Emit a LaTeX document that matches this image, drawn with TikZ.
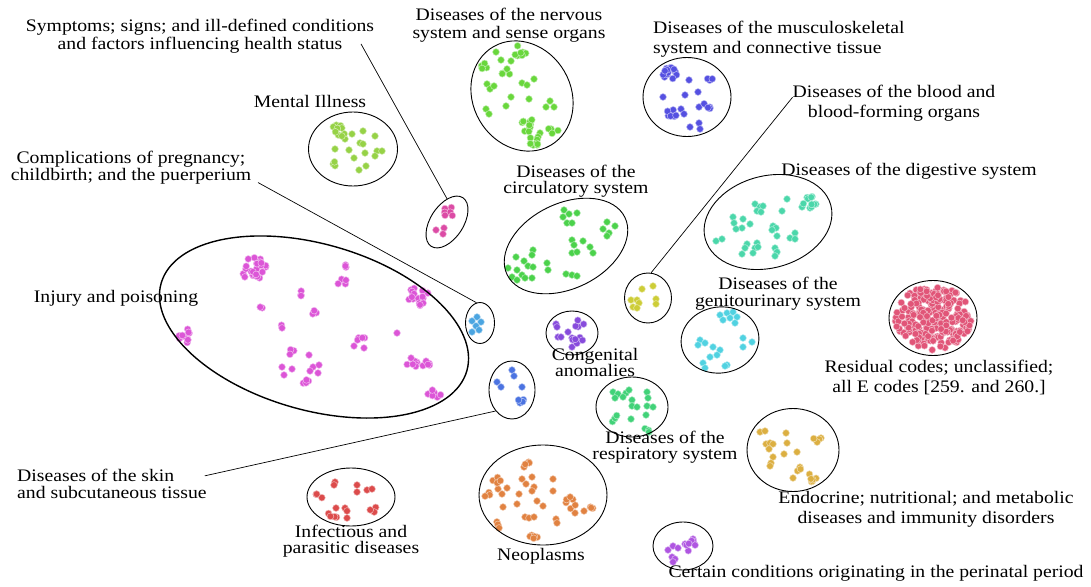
\documentclass[tikz,border=0pt]{standalone}
\usepackage{fontspec}
\setmainfont{Liberation Serif}[FakeStretch=1.12]
\usepackage{tikz}
\usetikzlibrary{shapes.geometric}
\definecolor{cMent}{RGB}{150,210,70}
\definecolor{cNerv}{RGB}{105,215,60}
\definecolor{cMusc}{RGB}{85,80,225}
\definecolor{cSymp}{RGB}{220,75,165}
\definecolor{cCirc}{RGB}{75,210,75}
\definecolor{cBlood}{RGB}{205,205,55}
\definecolor{cDig}{RGB}{75,215,170}
\definecolor{cComp}{RGB}{75,165,225}
\definecolor{cInj}{RGB}{220,85,215}
\definecolor{cCong}{RGB}{135,75,220}
\definecolor{cGen}{RGB}{80,210,225}
\definecolor{cRes}{RGB}{225,85,120}
\definecolor{cSkin}{RGB}{75,115,225}
\definecolor{cResp}{RGB}{65,210,120}
\definecolor{cEndo}{RGB}{220,175,65}
\definecolor{cInf}{RGB}{220,75,75}
\definecolor{cNeo}{RGB}{225,130,65}
\definecolor{cPeri}{RGB}{175,85,225}
\tikzset{
  dot/.style={fill=#1, draw=#1!40!white, line width=0.5pt},
  ring/.style={draw=black, line width=0.9pt, shape=ellipse, inner sep=0pt},
  lbl/.style={font=\fontsize{17.6}{17.7}\selectfont, inner sep=0pt, align=center, anchor=north},
  lead/.style={draw=black, line width=0.7pt},
}

\begin{document}
\begin{tikzpicture}[x=1pt,y=-1pt]
  \useasboundingbox (0,0) rectangle (1091,586);
  \pgfmathsetseed{42}
  % single points
  \foreach \cl/\x/\y in {
    cMent/352/134, cMent/363/131, cMent/375/136, cMent/345/139, cMent/360/143, cMent/363/144,
    cMent/335/149, cMent/349/150, cMent/365/153, cMent/377/151, cMent/382/151, cMent/375/156,
    cMent/354/158, cMent/366/166, cMent/359/170,
    cNerv/496/52, cNerv/501/60, cNerv/511/61, cNerv/487/84, cNerv/490/89, cNerv/494/86,
    cNerv/522/83, cNerv/527/85, cNerv/534/79, cNerv/511/97, cNerv/529/99, cNerv/550/101,
    cNerv/546/107, cNerv/554/107, cNerv/486/109, cNerv/489/114, cNerv/506/106, cNerv/540/133,
    cNerv/538/137,
    cMusc/689/80, cMusc/663/97, cMusc/685/95, cMusc/698/92, cMusc/699/107, cMusc/681/109,
    cMusc/684/114, cMusc/699/123, cMusc/690/127, cMusc/700/129,
    cSymp/436/230, cSymp/444/228, cSymp/443/234,
    cComp/477/317, cComp/481/322, cComp/472/321, cComp/476/326, cComp/479/330, cComp/472/332,
    cCirc/564/210, cCirc/569/214, cCirc/577/213, cCirc/563/217, cCirc/567/223, cCirc/572/223,
    cCirc/607/222, cCirc/615/226, cCirc/603/229, cCirc/609/233, cCirc/607/236, cCirc/572/240,
    cCirc/583/241, cCirc/574/245, cCirc/590/247, cCirc/593/253, cCirc/572/253, cCirc/577/252,
    cCirc/533/250, cCirc/532/255, cCirc/516/257, cCirc/524/261, cCirc/547/263, cCirc/528/266,
    cCirc/533/267, cCirc/508/268, cCirc/517/270, cCirc/522/275, cCirc/548/270, cCirc/512/277,
    cCirc/525/278, cCirc/532/278, cCirc/517/280, cCirc/566/274, cCirc/572/275, cCirc/577/276,
    cBlood/642/289, cBlood/653/286, cBlood/631/300, cBlood/637/300, cBlood/639/303,
    cBlood/656/299, cBlood/656/304, cBlood/633/307, cBlood/637/308,
    cCong/556/324, cCong/557/327, cCong/568/332, cCong/558/337, cCong/561/337, cCong/572/338,
    cCong/572/347,
    cSkin/512/370, cSkin/514/376, cSkin/497/382, cSkin/501/387, cSkin/522/387,
    cResp/613/392, cResp/618/394, cResp/626/393, cResp/629/390, cResp/623/397, cResp/615/398,
    cResp/632/400, cResp/647/392, cResp/648/398, cResp/632/406, cResp/637/407, cResp/647/406,
    cResp/653/407, cResp/631/419, cResp/646/415,
    cGen/720/315, cGen/727/313, cGen/733/312, cGen/723/320, cGen/730/318, cGen/737/317,
    cGen/735/323, cGen/700/340, cGen/698/345, cGen/705/343, cGen/713/347, cGen/720/350,
    cGen/710/357, cGen/717/355, cGen/703/363, cGen/727/365, cGen/705/368, cGen/743/338,
    cGen/752/342, cGen/743/347, cGen/725/366,
    cDig/787/199, cDig/782/211, cDig/755/204, cDig/760/207, cDig/763/206, cDig/757/211,
    cDig/761/212, cDig/802/207, cDig/810/208, cDig/733/217, cDig/743/219, cDig/734/223,
    cDig/750/224, cDig/742/228, cDig/736/229, cDig/773/226, cDig/776/228, cDig/772/230,
    cDig/777/236, cDig/795/233, cDig/790/238, cDig/795/239, cDig/716/241, cDig/722/239,
    cDig/747/244, cDig/757/243, cDig/745/248, cDig/755/248, cDig/758/247, cDig/742/254,
    cDig/753/253, cDig/775/248, cDig/777/252, cDig/775/256,
    cEndo/760/432, cEndo/765/431, cEndo/786/433, cEndo/766/444, cEndo/770/443, cEndo/773/444,
    cEndo/769/449, cEndo/787/443, cEndo/797/452, cEndo/784/454, cEndo/773/457, cEndo/771/463,
    cEndo/770/466, cEndo/793/478,
    cInf/335/482, cInf/334/485, cInf/357/485, cInf/357/492, cInf/367/490, cInf/336/508,
    cInf/345/508, cInf/347/511, cInf/347/518, cInf/372/489,
    cNeo/524/467, cNeo/498/489, cNeo/507/488, cNeo/502/494, cNeo/522/479, cNeo/532/477,
    cNeo/526/484, cNeo/534/487, cNeo/532/491, cNeo/519/494, cNeo/553/479, cNeo/553/491,
    cNeo/517/504, cNeo/537/501, cNeo/543/506, cNeo/503/507, cNeo/575/513, cNeo/584/511,
    cNeo/525/517, cNeo/529/518, cNeo/534/517, cNeo/556/519, cNeo/557/523,
    cPeri/668/550, cPeri/673/546, cPeri/678/548, cPeri/672/557, cPeri/675/559, cPeri/685/544,
    cPeri/693/539, cPeri/673/562,
    cInj/397/333, cInj/354/346, cInj/364/348, cInj/309/355, cInj/282/367, cInj/292/369,
    cInj/284/375, cInj/313/367, cInj/319/365, cInj/310/371, cInj/318/373, cInj/428/394}
    \fill[dot=\cl] (\x,\y) circle (3.4pt);
  % tight groups
  \foreach \cl/\cx/\cy/\rr/\nn in {
    cMent/338/131/7/10, cMent/335/162/4/3,
    cNerv/520/52/7/9, cNerv/484/67/5/4, cNerv/505/72/5/4, cNerv/528/125/7/10,
    cNerv/553/131/5/4, cNerv/533/141/6/7,
    cMusc/670/72/8/14, cMusc/711/79/4/3, cMusc/707/106/4/4, cMusc/672/115/6/6,
    cInj/253/267/13/26, cInj/343/267/4/3, cInj/343/283/5/4, cInj/300/292/4/3,
    cInj/260/308/3/2, cInj/316/314/4/3, cInj/282/327/3/2, cInj/418/298/11/16,
    cInj/185/336/8/9, cInj/360/338/5/4, cInj/291/353/4/3, cInj/306/384/5/4,
    cInj/412/363/6/7, cInj/427/363/5/5, cInj/437/393/6/6,
    cDig/810/202/7/9,
    cEndo/817/440/5/4, cEndo/798/468/4/3, cEndo/813/476/6/6,
    cNeo/525/461/5/3, cNeo/496/482/5/4, cNeo/487/493/4/3, cNeo/571/503/7/7,
    cNeo/589/507/4/3, cNeo/499/523/5/4, cNeo/533/537/6/5,
    cResp/614/418/5/4, cResp/645/431/5/3,
    cInf/319/496/4/3, cInf/332/517/5/4, cInf/374/509/4/3,
    cPeri/690/546/6/6, cSymp/449/212/6/7,
    cCong/579/323/5/4, cCong/577/342/6/5, cSkin/521/401/4/4}{
    \foreach \k in {1,...,\nn}{
      \pgfmathsetmacro{\ang}{360*rnd}
      \pgfmathsetmacro{\rad}{\rr*sqrt(rnd)}
      \fill[dot=\cl] (\cx,\cy) ++(\ang:\rad) circle (3.4pt);
    }
  }
  % residual codes cloud
  \foreach \k in {1,...,230}{
    \pgfmathsetmacro{\ang}{360*rnd}
    \pgfmathsetmacro{\rad}{sqrt(rnd)}
    \fill[dot=cRes] (933,318) ++({38*\rad*cos(\ang)},{32*\rad*sin(\ang)}) circle (3.4pt);
  }

  % cluster outlines
  \node[ring, minimum width=89, minimum height=74] (mentEll) at (353,149) {};
  \node[ring, minimum width=98, minimum height=114, rotate=30] (nervEll) at (522,96) {};
  \node[ring, minimum width=88, minimum height=79] (muscEll) at (687,97) {};
  \node[ring, minimum width=33, minimum height=58, rotate=-33] (sympEll) at (447,222) {};
  \node[ring, minimum width=131, minimum height=85, rotate=26] (circEll) at (566,246) {};
  \node[ring, minimum width=130, minimum height=92, rotate=15] (digEll) at (768,222) {};
  \node[ring, minimum width=47, minimum height=50] (bloodEll) at (648,298) {};
  \node[ring, minimum width=29, minimum height=41] (compEll) at (480,323) {};
  \node[ring, line width=1.4pt, minimum width=318, minimum height=166, rotate=-16] (injEll) at (314,327) {};
  \node[ring, minimum width=52, minimum height=44] (congEll) at (572,333) {};
  \node[ring, minimum width=78, minimum height=66, rotate=8] (genEll) at (720,340) {};
  \node[ring, minimum width=88, minimum height=75] (resEll) at (933,318) {};
  \node[ring, minimum width=46, minimum height=58] (skinEll) at (512,390) {};
  \node[ring, minimum width=72, minimum height=60] (respEll) at (632,407) {};
  \node[ring, minimum width=92, minimum height=83] (endoEll) at (793,450) {};
  \node[ring, minimum width=88, minimum height=58] (infEll) at (351,497) {};
  \node[ring, minimum width=128, minimum height=100] (neoEll) at (543,495) {};
  \node[ring, minimum width=60, minimum height=48] (periEll) at (683,546) {};

  % labels
  \node[lbl] (sympLbl) at (200,19) {Symptoms; signs; and ill-defined conditions\\[0.6pt]and factors influencing health status};
  \node[lbl] (mentLbl) at (310,95) {Mental Illness};
  \node[lbl] (compLbl) at (131,151) {Complications of pregnancy;\\[-0.7pt]childbirth; and the puerperium};
  \node[lbl] (injLbl) at (116,290) {Injury and poisoning};
  \node[lbl] (nervLbl) at (509,8) {Diseases of the nervous\\system and sense organs};
  \node[lbl, anchor=north west, align=left] (muscLbl) at (653,21) {Diseases of the musculoskeletal\\[2.3pt]system and connective tissue};
  \node[lbl] (bloodLbl) at (894,85) {Diseases of the blood and\\[2.3pt]blood-forming organs};
  \node[lbl] (digLbl) at (909,163) {Diseases of the digestive system};
  \node[lbl] (circLbl) at (576,165) {Diseases of the\\[-1.6pt]circulatory system};
  \node[lbl] (genLbl) at (778,277) {Diseases of the\\[-1pt]genitourinary system};
  \node[lbl] (resLbl) at (939,360) {Residual codes; unclassified;\\[2.3pt]all E codes [259. and 260.]};
  \node[lbl] (congLbl) at (595,348) {Congenital\\[-1.6pt]anomalies};
  \node[lbl] (respLbl) at (665,431) {Diseases of the\\[-1.6pt]respiratory system};
  \node[lbl] (endoLbl) at (926,491) {Endocrine; nutritional; and metabolic\\[2.3pt]diseases and immunity disorders};
  \node[lbl] (periLbl) at (876,565) {Certain conditions originating in the perinatal period};
  \node[lbl] (neoLbl) at (541,548) {Neoplasms};
  \node[lbl] (infLbl) at (351,525) {Infectious and\\[-1.6pt]parasitic diseases};
  \node[lbl, anchor=north west, align=left] (skinLbl) at (17,469) {Diseases of the skin\\[-1pt]and subcutaneous tissue};

  % leader lines
  \draw[lead] ([shift={(161,-10)}]sympLbl.south) -- (sympEll.123);
  \draw[lead] ([shift={(127,-2)}]compLbl.south) -- (compEll.100);
  \draw[lead] ([shift={(0,-6)}]bloodLbl.west) -- (bloodEll.83);
  \draw[lead] ([shift={(-2,-8)}]skinLbl.east) -- (skinEll.232);
\end{tikzpicture}
\end{document}
